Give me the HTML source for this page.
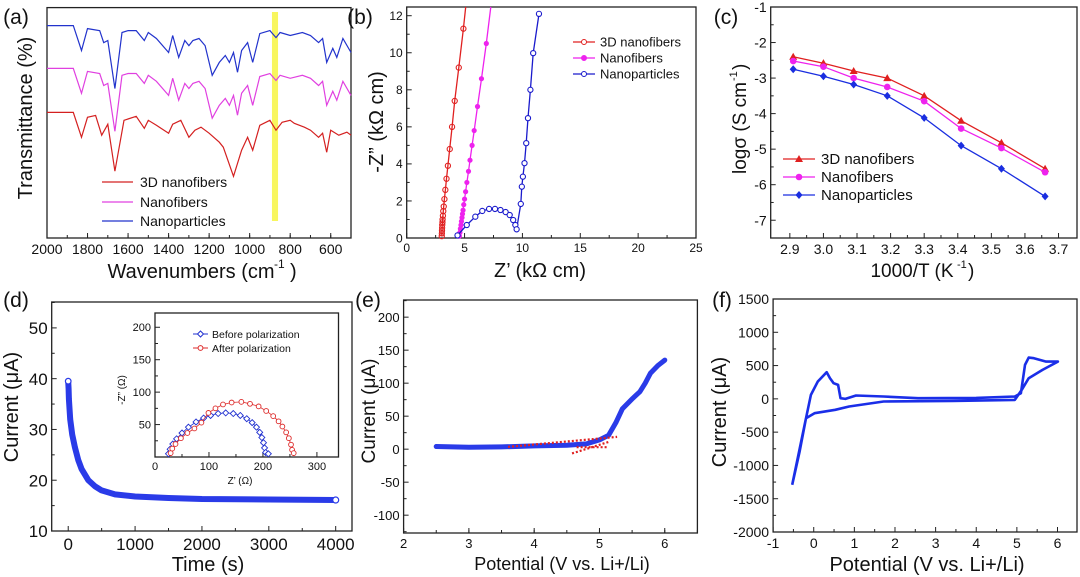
<!DOCTYPE html>
<html><head><meta charset="utf-8"><style>
html,body{margin:0;padding:0;background:#fff;}
svg{display:block;font-family:"Liberation Sans",Arial,sans-serif;}
</style></head><body>
<svg id="fig" width="1080" height="577" viewBox="0 0 1080 577" xmlns="http://www.w3.org/2000/svg"></svg>
<script>
// ---- (a) FTIR ----
const ftirWnBN=[2000,1870,1830,1800,1740,1720,1700,1665,1630,1600,1560,1520,1500,1460,1400,1380,1350,1320,1300,1280,1250,1220,1185,1150,1120,1100,1080,1060,1040,1010,985,950,900,870,850,800,740,700,660,640,620,590,570,540,500];
const ftirBlue=[92.2,92.2,81.4,90.9,90.0,84.8,85.7,64.9,89.2,90.0,90.0,85.7,89.2,86.6,80.5,87.9,78.4,85.7,83.5,85.7,86.6,83.5,70.6,76.2,79.2,76.2,80.5,71.9,81.4,84.8,76.2,88.7,90.0,87.0,89.2,87.9,89.2,87.9,84.8,86.6,76.2,82.3,78.4,86.6,80.5];
const ftirPink=[73.6,73.6,62.8,72.3,71.4,66.2,67.1,46.3,70.6,71.4,71.4,67.1,70.6,68.0,61.9,69.3,59.8,67.1,64.9,67.1,68.0,64.9,52.0,57.6,60.6,57.6,61.9,53.3,62.8,66.2,57.6,70.1,71.4,68.4,70.6,69.3,70.6,69.3,66.2,68.0,57.6,63.7,59.8,68.0,61.9];
const ftirWnR=[2000,1870,1830,1800,1760,1730,1700,1665,1620,1560,1520,1500,1460,1400,1380,1340,1300,1270,1240,1200,1150,1130,1080,1040,1010,985,950,900,870,840,800,780,730,700,660,640,620,600,560,520,500];
const ftirRed=[54.5,54.5,43.7,52.4,53.2,44.6,49.4,29.0,51.1,52.8,47.6,51.1,48.9,45.5,49.4,51.1,43.7,46.8,48.1,45.5,41.6,39.4,26.8,38.1,43.7,38.1,48.9,51.1,46.8,50.2,51.1,49.8,48.1,46.8,43.7,45.5,37.2,46.8,44.6,45.9,44.6];
const ftirTicks=[2000,1800,1600,1400,1200,1000,800,600];
// ---- (b) Nyquist ----
const nyRedY=[0.1,0.25,0.4,0.55,0.7,0.85,1.0,1.2,1.45,1.7,2.1,2.6,3.2,3.9,4.8,6.0,7.4,9.2,11.3];
const nyRedX=[3.03,3.04,3.05,3.06,3.07,3.09,3.1,3.13,3.16,3.2,3.26,3.34,3.44,3.56,3.72,3.92,4.15,4.5,4.9];
const nyMagY=[0.1,0.3,0.5,0.7,0.9,1.1,1.3,1.5,1.8,2.1,2.5,3.0,3.6,4.2,5.0,5.8,7.1,8.6,10.5];
const nyMagX=[4.55,4.6,4.64,4.69,4.73,4.78,4.82,4.87,4.93,5.0,5.09,5.2,5.34,5.47,5.65,5.83,6.12,6.46,6.88];
const nyBlueX=[4.39,5.19,5.93,6.53,7.12,7.63,8.1,8.55,8.9,9.2,9.39,9.5,9.86,9.95,10.04,10.18,10.33,10.48,10.69,10.93,11.43];
const nyBlueY=[0.14,0.7,1.15,1.46,1.57,1.57,1.51,1.4,1.24,0.97,0.7,0.47,1.84,2.77,3.31,4.04,5.12,6.47,8.0,9.98,12.1];
// ---- (c) Arrhenius ----
const arrX=[2.91,3.0,3.09,3.19,3.3,3.41,3.53,3.66];
const arr3D=[-2.4,-2.58,-2.8,-3.0,-3.5,-4.2,-4.82,-5.55];
const arrNF=[-2.52,-2.68,-3.0,-3.25,-3.65,-4.42,-4.97,-5.65];
const arrNP=[-2.75,-2.95,-3.18,-3.5,-4.12,-4.9,-5.55,-6.33];
// ---- (d) polarization ----
const polT=[0,5,10,30,60,100,150,200,300,400,500,700,1000,1500,2000,3000,4000];
const polI=[39.5,38,36,32,29,26.5,24,22.2,20,18.8,18,17.2,16.8,16.5,16.3,16.2,16.1];
const insBX=[25,28,33,40,50,62,76,90,103,117,131,145,158,170,180,188,194,198,201,203,205,210];
const insBY=[5,12,20,28,37,46,54,60,64,67,68,67,64,59,53,46,38,30,22,14,7,5];
const insRX=[29,32,38,48,60,73,86,99,112,126,142,160,176,192,206,219,229,236,243,248,252,254,257];
const insRY=[6,13,20,29,37,44,53,68,75,81,84,85,82,78,71,63,55,47,38,29,19,11,6];
// ---- (e) LSV ----
const lsvV=[2.5,3.0,3.5,4.0,4.5,4.8,5.0,5.14,5.25,5.35,5.51,5.62,5.7,5.78,5.9,6.0];
const lsvI=[4,3,3.5,5,6,8,14,21,40,61,77,87,100,115,127,135];
// ---- (f) CV ----
const cvV=[-0.53,-0.35,-0.19,-0.07,0.1,0.32,0.4,0.49,0.6,0.66,0.78,1.04,1.72,2.57,4.0,4.95,5.1,5.2,5.29,5.42,5.72,6.01,5.63,5.29,5.12,4.95,3.42,1.72,0.87,0.53,0.02,-0.19,-0.53];
const cvI=[-1291,-800,-290,60,260,400,310,235,210,10,0,50,35,10,15,35,85,510,620,610,560,560,435,310,135,-15,-30,-40,-115,-165,-215,-290,-1291];

const NS='http://www.w3.org/2000/svg';
const svg=document.getElementById('fig');
function el(tag,attrs,parent,name){
  const e=document.createElementNS(NS,tag);
  for(const k in attrs) e.setAttribute(k,attrs[k]);
  
  
  (parent||svg).appendChild(e);
  return e;
}
function txt(s,x,y,size,parent,name,anchor,extra){
  const t=el('text',Object.assign({x:x,y:y,'font-size':size,'text-anchor':anchor||'middle',fill:'#111'},extra||{}),parent,name);
  t.textContent=s;return t;
}
function lin(d0,d1,r0,r1){return v=>r0+(v-d0)/(d1-d0)*(r1-r0);}
function fmt(v,dec){return v<0?'-'+Math.abs(v).toFixed(dec):v.toFixed(dec);}
function axes(o){
  const g=el('g',{},svg,o.name);
  const sx=lin(o.xd[0],o.xd[1],o.x0,o.x1), sy=lin(o.yd[0],o.yd[1],o.y1,o.y0);
  el('rect',{x:o.x0,y:o.y0,width:o.x1-o.x0,height:o.y1-o.y0,fill:'none',stroke:'#222','stroke-width':1.3},g,o.name+'-frame');
  (o.xminor||[]).forEach(v=>{const x=sx(v);el('line',{x1:x,x2:x,y1:o.y1,y2:o.y1-3,stroke:'#222','stroke-width':1},g,'x-minor-tick');});
  (o.yminor||[]).forEach(v=>{const y=sy(v);el('line',{x1:o.x0,x2:o.x0+3,y1:y,y2:y,stroke:'#222','stroke-width':1},g,'y-minor-tick');});
  (o.xt||[]).forEach(v=>{const x=sx(v);el('line',{x1:x,x2:x,y1:o.y1,y2:o.y1-5,stroke:'#222','stroke-width':1},g,'x-major-tick');
    txt(fmt(v,o.xdec||0),x,o.y1+o.fs+2,o.fs,g,'x-tick-label');});
  (o.yt||[]).forEach(v=>{const y=sy(v);el('line',{x1:o.x0,x2:o.x0+5,y1:y,y2:y,stroke:'#222','stroke-width':1},g,'y-major-tick');
    txt(fmt(v,o.ydec||0),o.x0-4,y+o.fs*0.36,o.fs,g,'y-tick-label','end');});
  return {g,sx,sy};
}
function range(a,b,s){const r=[];for(let v=a;v<=b+1e-9;v+=s)r.push(+v.toFixed(4));return r;}
function poly(xs,ys,sx,sy,attrs,g,name){
  const pts=xs.map((x,i)=>sx(x).toFixed(1)+','+sy(ys[i]).toFixed(1)).join(' ');
  return el('polyline',Object.assign({points:pts,fill:'none'},attrs),g,name);
}

// ===== Panel (a) =====
{
 const A=axes({name:'panel-a',x0:47,x1:351,y0:7.6,y1:238,xd:[2000,500],yd:[0,100],xt:ftirTicks,xminor:range(500,1900,100),fs:14});
 el('rect',{x:A.sx(890),y:12,width:A.sx(860)-A.sx(890),height:209,fill:'#f7f542',opacity:0.85},A.g,'highlight-band');
 poly(ftirWnBN,ftirBlue,A.sx,A.sy,{stroke:'#2233cc','stroke-width':1.2},A.g,'nanoparticles-spectrum');
 poly(ftirWnBN,ftirPink,A.sx,A.sy,{stroke:'#e040e0','stroke-width':1.2},A.g,'nanofibers-spectrum');
 poly(ftirWnR,ftirRed,A.sx,A.sy,{stroke:'#d42020','stroke-width':1.2},A.g,'3d-nanofibers-spectrum');
 const lg=[['3D nanofibers','#d42020',182],['Nanofibers','#e040e0',202],['Nanoparticles','#2233cc',221]];
 lg.forEach(l=>{el('line',{x1:102,x2:133,y1:l[2],y2:l[2],stroke:l[1],'stroke-width':1.3},A.g,'legend-line');txt(l[0],140,l[2]+5,14,A.g,'legend-entry','start');});
 txt('Wavenumbers (cm',191,278,20,A.g,'x-axis-title');
 txt('-1',274,268,12,A.g,'x-axis-title-sup','start');
 txt(')',290,278,20,A.g,'x-axis-title-paren','start');
 txt('Transmittance (%)',0,0,20,A.g,'y-axis-title','middle',{transform:'translate(32,118) rotate(-90)'});
 txt('(a)',16,24,21,svg,'panel-label-a');
}
// ===== Panel (b) =====
{
 const B=axes({name:'panel-b',x0:406.7,x1:696,y0:7,y1:238,xd:[0,25],yd:[0,12.47],xt:range(0,25,5),xminor:range(2.5,22.5,5),yt:range(0,12,2),yminor:range(1,11,2),fs:12});
 poly(nyRedX.concat([5.1]),nyRedY.concat([12.47]),B.sx,B.sy,{stroke:'#e02020','stroke-width':1.3},B.g,'3d-nanofibers-line');
 nyRedX.forEach((x,i)=>el('circle',{cx:B.sx(x),cy:B.sy(nyRedY[i]),r:2.6,fill:'none',stroke:'#e02020','stroke-width':1.1},B.g,'3d-nanofibers-point'));
 poly(nyMagX.concat([7.27]),nyMagY.concat([12.47]),B.sx,B.sy,{stroke:'#ee22ee','stroke-width':1.3},B.g,'nanofibers-line');
 nyMagX.forEach((x,i)=>el('circle',{cx:B.sx(x),cy:B.sy(nyMagY[i]),r:2.6,fill:'#ee22ee'},B.g,'nanofibers-point'));
 poly(nyBlueX,nyBlueY,B.sx,B.sy,{stroke:'#1a1acc','stroke-width':1.3},B.g,'nanoparticles-line');
 nyBlueX.forEach((x,i)=>el('circle',{cx:B.sx(x),cy:B.sy(nyBlueY[i]),r:2.6,fill:'#fff',stroke:'#1a1acc','stroke-width':1.1},B.g,'nanoparticles-point'));
 const lg=[['3D nanofibers','#e02020',42,'none'],['Nanofibers','#ee22ee',58,'#ee22ee'],['Nanoparticles','#1a1acc',74,'#fff']];
 lg.forEach(l=>{el('line',{x1:573,x2:595,y1:l[2],y2:l[2],stroke:l[1],'stroke-width':1.3},B.g,'legend-line');
  el('circle',{cx:584,cy:l[2],r:2.5,fill:l[3]==='none'?'#fff':l[3],stroke:l[1]},B.g,'legend-marker');
  txt(l[0],600,l[2]+4.5,13,B.g,'legend-entry','start');});
 txt('Z\u2019 (k\u03A9 cm)',540,277,20,B.g,'x-axis-title');
 txt('-Z\u201D (k\u03A9 cm)',0,0,20,B.g,'y-axis-title','middle',{transform:'translate(383,122) rotate(-90)'});
 txt('(b)',360,24,21,svg,'panel-label-b');
}
// ===== Panel (c) =====
{
 const C=axes({name:'panel-c',x0:770.7,x1:1077,y0:7,y1:238,xd:[2.843,3.755],yd:[-7.5,-1],xt:range(2.9,3.7,0.1),xdec:1,xminor:range(2.95,3.65,0.1),yt:range(-7,-1,1),yminor:range(-7.5,-1.5,1),fs:14});
 const ser=[[arr3D,'#e02020','tri','3d-nanofibers'],[arrNF,'#ee22ee','circ','nanofibers'],[arrNP,'#1a2ee0','dia','nanoparticles']];
 ser.forEach(s=>{poly(arrX,s[0],C.sx,C.sy,{stroke:s[1],'stroke-width':1.3},C.g,s[3]+'-line');
  arrX.forEach((x,i)=>{const cx=C.sx(x),cy=C.sy(s[0][i]);
   if(s[2]==='tri')el('path',{d:`M${cx},${cy-4}L${cx+4},${cy+3}L${cx-4},${cy+3}Z`,fill:s[1]},C.g,s[3]+'-point');
   else if(s[2]==='circ')el('circle',{cx:cx,cy:cy,r:3.3,fill:s[1]},C.g,s[3]+'-point');
   else el('path',{d:`M${cx},${cy-4}L${cx+3.5},${cy}L${cx},${cy+4}L${cx-3.5},${cy}Z`,fill:s[1]},C.g,s[3]+'-point');});});
 const lg=[['3D nanofibers','#e02020',159,'tri'],['Nanofibers','#ee22ee',177,'circ'],['Nanoparticles','#1a2ee0',195,'dia']];
 lg.forEach(l=>{el('line',{x1:783,x2:815,y1:l[2],y2:l[2],stroke:l[1],'stroke-width':1.3},C.g,'legend-line');
  const cx=799,cy=l[2];
  if(l[3]==='tri')el('path',{d:`M${cx},${cy-4}L${cx+4},${cy+3}L${cx-4},${cy+3}Z`,fill:l[1]},C.g,'legend-marker');
  else if(l[3]==='circ')el('circle',{cx:cx,cy:cy,r:3.3,fill:l[1]},C.g,'legend-marker');
  else el('path',{d:`M${cx},${cy-4}L${cx+3.5},${cy}L${cx},${cy+4}L${cx-3.5},${cy}Z`,fill:l[1]},C.g,'legend-marker');
  txt(l[0],821,l[2]+5,15,C.g,'legend-entry','start');});
 txt('1000/T (K',912,277,19,C.g,'x-axis-title');
 txt('-1',957,268,11,C.g,'x-axis-title-sup','start');
 txt(')',968,277,19,C.g,'x-axis-title-paren','start');
 txt('log\u03C3 (S cm',0,0,19,C.g,'y-axis-title','middle',{transform:'translate(746,128) rotate(-90)'});
 txt('-1',0,0,11,C.g,'y-axis-title-sup','start',{transform:'translate(737,81) rotate(-90)'});
 txt(')',0,0,19,C.g,'y-axis-title-paren','start',{transform:'translate(746,70) rotate(-90)'});
 txt('(c)',726,24,21,svg,'panel-label-c');
}
// ===== Panel (d) =====
{
 const D=axes({name:'panel-d',x0:51.7,x1:352,y0:302,y1:531,xd:[-247,4244],yd:[10,55.1],xt:range(0,4000,1000),xminor:range(500,3500,1000),yt:range(10,50,10),yminor:range(15,55,10),fs:17});
 poly(polT,polI,D.sx,D.sy,{stroke:'#2a3be8','stroke-width':6,'stroke-linejoin':'round','stroke-linecap':'round'},D.g,'current-decay-curve');
 el('circle',{cx:D.sx(polT[0]),cy:D.sy(polI[0]),r:2.8,fill:'#fff',stroke:'#2a3be8','stroke-width':1.2},D.g,'curve-start-point');
 el('circle',{cx:D.sx(polT[polT.length-1]),cy:D.sy(polI[polI.length-1]),r:3,fill:'#fff',stroke:'#2a3be8','stroke-width':1.2},D.g,'curve-end-point');
 const I=axes({name:'inset',x0:155,x1:338.5,y0:313,y1:457,xd:[0,340],yd:[0,222],xt:range(0,300,100),xminor:range(50,250,100),yt:range(50,200,50),yminor:range(25,200,50),fs:11});
 poly(insBX,insBY,I.sx,I.sy,{stroke:'#2030d0','stroke-width':0.8},I.g,'before-line');
 insBX.forEach((x,i)=>{const cx=I.sx(x),cy=I.sy(insBY[i]);el('path',{d:`M${cx},${cy-3}L${cx+3},${cy}L${cx},${cy+3}L${cx-3},${cy}Z`,fill:'#fff',stroke:'#2030d0','stroke-width':0.9},I.g,'before-point');});
 poly(insRX,insRY,I.sx,I.sy,{stroke:'#dd2a2a','stroke-width':0.8},I.g,'after-line');
 insRX.forEach((x,i)=>el('circle',{cx:I.sx(x),cy:I.sy(insRY[i]),r:2.4,fill:'#fff',stroke:'#dd2a2a','stroke-width':0.9},I.g,'after-point'));
 el('line',{x1:193,x2:208,y1:334,y2:334,stroke:'#2030d0'},I.g,'legend-line');
 el('path',{d:'M200.5,331L203.5,334L200.5,337L197.5,334Z',fill:'#fff',stroke:'#2030d0'},I.g,'legend-marker');
 txt('Before polarization',212,338,10.5,I.g,'legend-entry','start');
 el('line',{x1:193,x2:208,y1:348,y2:348,stroke:'#dd2a2a'},I.g,'legend-line');
 el('circle',{cx:200.5,cy:348,r:2.4,fill:'#fff',stroke:'#dd2a2a'},I.g,'legend-marker');
 txt('After polarization',212,352,10.5,I.g,'legend-entry','start');
 txt('Z\u2019 (\u03A9)',240,484,10,I.g,'inset-x-title');
 txt('-Z\u201D (\u03A9)',0,0,10,I.g,'inset-y-title','middle',{transform:'translate(125,390) rotate(-90)'});
 txt('Time (s)',208,571,20,D.g,'x-axis-title');
 txt('Current (\u03BCA)',0,0,20,D.g,'y-axis-title','middle',{transform:'translate(18,407) rotate(-90)'});
 txt('(d)',16,307,21,svg,'panel-label-d');
}
// ===== Panel (e) =====
{
 const E=axes({name:'panel-e',x0:403.6,x1:697.4,y0:300,y1:533,xd:[2,6.5],yd:[-127,226],xt:range(2,6,1),xminor:range(2.5,6.5,0.5),yt:range(-100,200,50),yminor:range(-125,225,50),fs:13});
 poly(lsvV,lsvI,E.sx,E.sy,{stroke:'#2a3be8','stroke-width':5,'stroke-linejoin':'round','stroke-linecap':'round'},E.g,'lsv-curve');
 el('line',{x1:E.sx(3.6),y1:E.sy(3.5),x2:E.sx(5.27),y2:E.sy(18.6),stroke:'#e02020','stroke-width':2.2,'stroke-dasharray':'2 2'},E.g,'tangent-line-baseline');
 el('line',{x1:E.sx(4.58),y1:E.sy(-6.5),x2:E.sx(5.14),y2:E.sy(11),stroke:'#e02020','stroke-width':2.2,'stroke-dasharray':'2 2'},E.g,'tangent-line-onset');
 el('line',{x1:E.sx(4.65),y1:E.sy(3),x2:E.sx(5.14),y2:E.sy(3),stroke:'#e02020','stroke-width':2.2,'stroke-dasharray':'2 2'},E.g,'tangent-line-flat');
 txt('Potential (V vs. Li+/Li)',562,570,18,E.g,'x-axis-title');
 txt('Current (\u03BCA)',0,0,19,E.g,'y-axis-title','middle',{transform:'translate(375,411) rotate(-90)'});
 txt('(e)',368,307,21,svg,'panel-label-e');
}
// ===== Panel (f) =====
{
 const F=axes({name:'panel-f',x0:773.1,x1:1077,y0:299,y1:532,xd:[-1,6.48],yd:[-2000,1500],xt:range(-1,6,1),xminor:range(-0.5,6,1),yt:range(-2000,1500,500),yminor:range(-1750,1250,500),fs:14});
 poly(cvV,cvI,F.sx,F.sy,{stroke:'#1a2ee8','stroke-width':2.6,'stroke-linejoin':'round'},F.g,'cv-curve');
 txt('Potential (V vs. Li+/Li)',927,571,20,F.g,'x-axis-title');
 txt('Current (\u03BCA)',0,0,20,F.g,'y-axis-title','middle',{transform:'translate(726,412) rotate(-90)'});
 txt('(f)',722,307,21,svg,'panel-label-f');
}
</script>
</body></html>
